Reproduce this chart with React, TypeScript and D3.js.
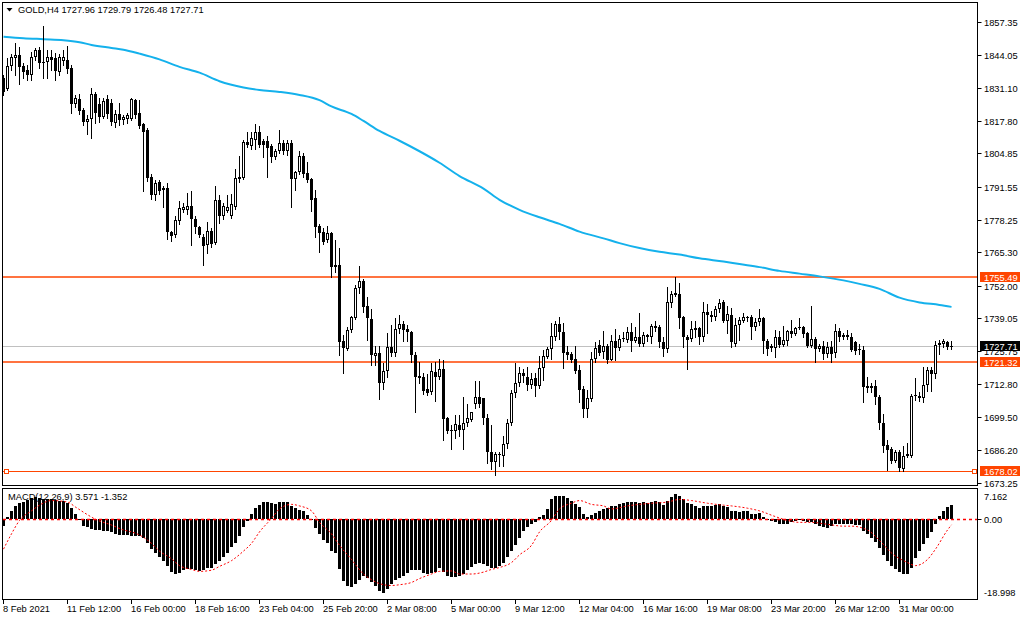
import React from 'react';
import * as d3 from 'd3';

const opens = [1834.8,1830.6,1839.8,1842.9,1844.0,1839.8,1838.0,1836.3,1843.5,1846.3,1841.5,1841.2,1843.2,1843.0,1837.4,1841.7,1842.0,1838.9,1824.5,1826.7,1822.0,1817.2,1818.7,1828.7,1824.5,1819.5,1826.4,1824.9,1817.0,1820.5,
1818.0,1818.5,1818.7,1826.0,1821.0,1816.4,1814.0,1795.5,1788.4,1793.3,1790.2,1790.9,1773.6,1772.1,1777.7,1782.3,1782.3,1784.0,1778.7,1775.4,1771.6,1768.3,1774.0,1769.0,1786.2,1779.7,1782.0,1780.0,1783.6,1794.6,
1795.0,1809.2,1807.7,1810.3,1813.4,1809.6,1809.6,1807.6,1803.4,1805.7,1808.8,1805.7,1809.1,1794.7,1797.3,1803.7,1797.0,1794.7,1787.1,1775.9,1773.6,1770.1,1773.2,1759.4,1760.3,1730.0,1726.7,1734.3,1739.2,1751.0,
1754.0,1743.8,1738.8,1723.9,1725.1,1712.9,1717.8,1727.3,1725.1,1734.6,1736.5,1734.6,1733.4,1724.2,1715.8,1715.5,1710.5,1709.4,1717.5,1715.5,1718.6,1699.1,1694.4,1694.1,1696.4,1694.5,1697.0,1698.5,1704.8,1707.4,
1707.0,1699.1,1685.7,1681.4,1684.9,1684.1,1688.7,1697.1,1708.9,1712.9,1717.0,1715.5,1712.4,1715.0,1711.7,1719.0,1723.6,1726.7,1731.6,1736.5,1733.4,1725.4,1724.7,1722.7,1718.1,1710.5,1702.8,1706.8,1722.7,1728.2,
1725.4,1727.7,1722.4,1730.0,1727.0,1730.8,1730.3,1733.4,1730.0,1731.3,1728.5,1732.3,1731.6,1735.8,1735.4,1729.3,1726.7,1745.0,1749.1,1748.7,1739.5,1731.6,1730.8,1734.9,1734.9,1731.3,1741.5,1740.4,1739.5,1742.6,
1745.3,1738.0,1740.4,1728.8,1736.1,1738.0,1739.5,1739.5,1735.4,1737.4,1738.9,1730.0,1727.0,1727.0,1731.6,1728.2,1730.0,1733.9,1732.8,1734.9,1735.4,1733.1,1727.7,1730.8,1726.7,1727.7,1724.7,1727.3,1725.1,1733.9,
1731.3,1732.3,1731.3,1729.3,1726.2,1726.2,1711.7,1712.0,1711.7,1707.4,1697.1,1688.4,1686.9,1681.9,1685.7,1678.8,1683.9,1684.1,1707.9,1707.9,1707.1,1712.4,1718.1,1716.6,1728.2,1728.8,1729.5,1727.96];
const highs = [1836.0,1843.0,1844.5,1849.0,1847.5,1841.0,1840.0,1845.5,1847.0,1847.5,1855.7,1846.3,1846.0,1845.0,1844.5,1846.3,1847.8,1840.0,1828.0,1828.7,1823.0,1820.0,1831.0,1829.4,1827.0,1827.1,1828.0,1826.7,1822.0,1825.0,
1820.0,1821.0,1827.0,1826.4,1826.0,1817.0,1815.0,1796.5,1794.2,1794.2,1792.0,1793.0,1774.0,1779.7,1785.8,1785.0,1788.9,1789.7,1779.7,1775.9,1772.5,1777.4,1775.0,1791.7,1788.2,1785.0,1788.2,1788.5,1798.8,1803.7,
1810.3,1813.4,1813.4,1816.4,1815.7,1810.5,1811.9,1808.5,1806.5,1814.1,1810.3,1810.3,1810.3,1798.0,1805.7,1805.0,1801.6,1795.0,1790.4,1776.7,1775.1,1775.9,1773.6,1770.3,1767.0,1732.3,1735.4,1740.0,1752.2,1759.9,
1754.5,1747.6,1742.6,1727.7,1727.7,1720.9,1733.1,1736.1,1739.2,1740.4,1737.7,1736.1,1733.9,1725.4,1721.6,1717.0,1716.6,1720.9,1721.6,1722.7,1722.1,1699.5,1696.4,1700.2,1700.2,1707.4,1704.8,1701.5,1714.0,1714.0,
1707.0,1700.9,1696.4,1685.7,1685.7,1691.8,1698.7,1710.1,1720.9,1719.3,1718.6,1719.3,1717.0,1717.0,1723.9,1726.2,1727.3,1736.9,1737.7,1739.5,1736.9,1727.7,1725.4,1727.7,1720.1,1711.7,1710.1,1725.4,1729.3,1730.3,
1733.9,1728.5,1732.3,1734.6,1732.3,1733.4,1735.4,1736.9,1735.4,1741.0,1733.4,1732.8,1736.5,1737.7,1736.1,1731.6,1751.4,1749.9,1755.3,1753.0,1739.9,1732.3,1737.7,1737.7,1735.4,1745.3,1744.6,1741.9,1743.8,1746.5,
1746.1,1743.8,1743.0,1739.2,1739.5,1741.0,1740.0,1740.4,1738.9,1742.6,1739.5,1730.8,1728.5,1734.3,1733.9,1735.8,1734.3,1738.4,1735.4,1739.2,1735.8,1733.4,1743.8,1731.6,1728.8,1729.7,1729.3,1729.7,1736.5,1735.0,
1733.1,1734.3,1733.1,1730.0,1728.5,1727.7,1715.5,1713.2,1714.4,1708.3,1700.9,1690.3,1687.5,1686.4,1686.4,1688.0,1689.0,1708.6,1715.0,1709.4,1719.6,1719.6,1719.6,1730.0,1730.3,1730.5,1729.8,1729.79];
const lows = [1828.0,1830.0,1838.0,1836.0,1832.5,1834.8,1834.0,1834.0,1842.0,1839.0,1834.8,1834.8,1838.0,1834.0,1836.0,1840.0,1837.0,1821.0,1823.5,1820.5,1816.0,1812.6,1811.0,1817.0,1817.5,1819.0,1819.0,1816.0,1815.5,1816.0,
1816.5,1817.0,1818.0,1819.0,1815.0,1789.7,1794.0,1786.6,1786.3,1788.5,1783.6,1770.6,1769.8,1771.6,1776.7,1781.5,1780.5,1768.3,1772.9,1771.3,1760.3,1764.9,1767.5,1768.7,1777.1,1778.5,1781.3,1779.0,1782.5,1793.5,
1794.5,1807.5,1806.5,1806.5,1807.5,1803.4,1795.5,1801.6,1802.5,1805.0,1804.5,1804.2,1783.6,1790.4,1796.5,1795.5,1793.5,1781.7,1771.3,1765.5,1768.5,1769.5,1755.3,1757.6,1724.2,1717.0,1726.2,1733.5,1738.5,1749.1,
1741.5,1730.3,1720.1,1720.1,1706.8,1710.5,1715.5,1723.9,1723.9,1733.1,1729.7,1730.0,1721.6,1701.7,1713.2,1708.6,1708.3,1708.6,1705.9,1714.5,1690.3,1693.3,1686.9,1691.0,1691.8,1686.9,1696.0,1697.9,1703.0,1703.7,
1696.7,1681.1,1678.8,1676.5,1679.9,1679.9,1687.2,1696.4,1707.4,1711.7,1713.5,1710.1,1710.9,1707.9,1710.9,1714.4,1723.1,1722.7,1730.3,1730.8,1719.0,1722.7,1721.6,1717.0,1705.6,1699.4,1699.4,1705.9,1721.6,1724.2,
1723.0,1721.2,1722.1,1722.1,1726.2,1729.7,1729.3,1725.8,1729.3,1727.7,1727.7,1730.0,1728.9,1733.9,1727.3,1723.9,1725.4,1743.5,1748.0,1734.9,1727.3,1718.6,1730.0,1731.3,1728.5,1730.0,1733.1,1738.0,1738.4,1741.5,
1737.4,1733.1,1727.3,1727.7,1730.3,1737.4,1738.0,1730.8,1734.3,1736.1,1725.1,1724.2,1725.8,1723.6,1727.3,1727.7,1728.2,1731.6,1732.3,1734.6,1731.6,1727.3,1727.3,1721.6,1725.8,1722.7,1723.6,1721.6,1723.6,1730.0,
1730.8,1730.8,1725.8,1724.7,1724.7,1705.3,1709.5,1709.4,1704.8,1694.9,1685.7,1678.3,1681.1,1681.4,1678.0,1678.0,1683.4,1683.4,1706.3,1705.9,1705.6,1709.9,1709.9,1715.0,1724.5,1727.5,1726.5,1726.48];
const closes = [1829.4,1839.8,1843.2,1844.0,1839.4,1837.4,1836.3,1843.5,1846.3,1840.9,1841.0,1843.5,1842.0,1837.9,1843.2,1843.5,1838.6,1824.5,1827.1,1821.8,1817.5,1818.7,1828.7,1821.0,1819.5,1825.6,1820.7,1817.2,1820.5,1818.0,
1819.2,1820.0,1826.4,1820.3,1815.7,1813.4,1795.0,1788.2,1793.0,1790.0,1791.2,1773.6,1771.9,1778.2,1783.1,1783.6,1784.0,1778.7,1775.4,1772.1,1767.9,1773.9,1768.5,1786.3,1779.7,1784.0,1783.4,1784.5,1794.9,1795.5,
1809.2,1808.0,1810.8,1813.4,1808.3,1808.3,1807.0,1803.4,1805.7,1808.8,1805.7,1808.8,1794.7,1797.3,1803.7,1796.6,1794.3,1786.3,1775.6,1773.2,1769.3,1772.9,1759.4,1760.3,1729.6,1727.0,1734.3,1739.5,1751.0,1753.7,
1743.3,1738.9,1724.2,1725.1,1713.2,1717.8,1727.3,1725.1,1734.6,1736.5,1734.3,1733.4,1724.2,1715.5,1715.2,1709.9,1709.1,1717.8,1715.5,1718.6,1698.7,1694.1,1693.8,1696.7,1694.5,1697.1,1699.1,1701.5,1707.4,1704.8,
1699.1,1685.7,1681.4,1684.9,1684.5,1688.7,1697.1,1708.9,1712.9,1717.0,1715.8,1712.4,1714.7,1711.7,1719.0,1723.9,1726.7,1731.9,1736.5,1733.4,1725.1,1724.2,1722.4,1717.8,1710.2,1702.8,1707.1,1722.7,1727.0,1725.1,
1727.7,1722.4,1729.7,1727.0,1730.8,1731.1,1733.4,1730.0,1731.3,1728.5,1732.3,1731.3,1735.8,1734.9,1729.3,1726.7,1745.3,1748.7,1748.1,1739.2,1731.3,1730.3,1734.6,1734.3,1731.3,1741.5,1740.4,1739.5,1742.6,1745.0,
1738.0,1740.7,1729.3,1736.1,1738.4,1739.5,1738.9,1735.4,1737.4,1738.9,1730.0,1726.7,1727.7,1731.6,1728.2,1730.3,1733.9,1732.8,1734.9,1735.4,1732.8,1727.7,1730.8,1726.7,1727.7,1724.7,1727.3,1724.7,1733.9,1731.6,
1732.3,1731.3,1726.2,1725.8,1726.7,1711.4,1711.1,1710.9,1707.4,1697.1,1688.0,1686.4,1681.9,1685.7,1679.3,1683.9,1684.9,1707.9,1708.3,1707.1,1712.4,1718.1,1716.6,1728.2,1729.0,1730.0,1727.5,1727.71];

const macdHist = [-1.68,0.65,2.06,3.27,3.93,4.21,4.68,5.15,5.33,5.15,4.87,4.87,4.87,4.68,4.58,4.40,3.93,2.71,1.40,0.09,-1.68,-1.96,-2.34,-2.62,-2.62,-2.90,-2.90,-3.09,-3.56,-3.74,
-3.84,-3.84,-4.02,-4.02,-4.02,-4.49,-5.89,-7.30,-8.23,-9.17,-10.11,-11.51,-12.91,-13.38,-13.10,-12.45,-12.26,-12.16,-12.45,-12.63,-12.45,-11.98,-11.98,-11.04,-10.11,-9.17,-8.23,-6.83,-5.71,-4.02,
-1.96,-0.40,1.40,2.71,3.46,4.12,4.21,3.93,3.65,4.12,4.21,4.21,3.27,2.71,2.25,2.06,0.94,-0.28,-2.15,-3.56,-5.15,-5.89,-7.77,-8.23,-12.26,-15.07,-16.19,-16.66,-15.72,-14.78,
-13.85,-14.32,-15.44,-16.37,-17.59,-18.06,-17.12,-15.72,-14.78,-14.32,-13.85,-13.19,-12.45,-12.45,-12.45,-13.10,-13.38,-13.19,-12.91,-11.98,-12.91,-13.85,-14.13,-14.13,-13.85,-13.38,-12.45,-11.70,-11.04,-10.57,
-11.04,-11.51,-11.98,-11.98,-11.51,-10.57,-9.17,-7.77,-6.36,-4.49,-2.90,-1.96,-1.22,-0.75,0.47,1.12,2.53,4.87,5.61,5.80,5.61,5.15,4.40,3.65,2.99,1.40,0.65,1.12,1.59,2.06,
2.53,2.71,3.27,3.27,3.65,3.93,4.21,4.21,4.21,3.93,4.21,3.93,4.21,4.58,4.21,3.46,4.58,5.52,6.27,5.80,4.87,3.93,3.65,3.27,2.71,3.27,3.27,3.27,3.46,3.65,
3.27,2.99,2.06,2.06,1.78,2.06,2.06,1.40,1.40,1.59,0.65,-0.09,-0.47,-0.75,-1.22,-1.03,-1.22,-0.75,-0.47,-0.28,-0.47,-0.75,-0.75,-1.22,-1.68,-1.96,-2.15,-1.68,-1.22,-1.03,
-1.03,-1.03,-1.03,-1.40,-1.40,-2.90,-3.56,-4.49,-5.43,-7.02,-8.70,-10.11,-11.51,-12.26,-12.91,-13.38,-13.38,-11.98,-9.45,-7.77,-6.08,-4.49,-3.09,-1.03,0.84,2.06,2.99,3.571];

const signalBar = [0,2,4,7,9,12,16,18,21,23,27,30,32,34,37,39,42,44,47,49,52,54,57,60,62,64,67,69,72,74,77,79,82,84,87,90,92,94,97,99,102,104,107,109,112,114,117,120,122,124,127,129,132,134,137,139,142,144,147,150,152,156,159,162,166,169,172,176,180,182,186,189,193,196,199,202,206,210,212,216,219,222,226,228,231,233,236,237];
const signalVal = [-7.30,-3.56,-0.28,2.06,3.46,4.58,4.21,2.99,1.12,0,-1.40,-2.62,-3.09,-3.84,-5.89,-7.77,-9.64,-11.32,-12.26,-12.73,-12.45,-11.51,-10.11,-7.77,-5.89,-3.09,0.19,2.53,3.65,3.27,2.06,-0.75,-3.56,-6.36,-9.82,-13.38,-14.78,-15.72,-16.19,-16.00,-15.44,-14.50,-13.38,-12.73,-12.63,-13.38,-13.38,-12.91,-12.26,-11.79,-10.57,-8.70,-6.36,-3.09,-0.28,2.53,3.93,4.58,3.65,3.27,2.53,3.27,3.65,3.93,4.21,4.87,4.58,3.93,3.46,3.27,2.71,2.06,0.65,-0.28,-0.75,-0.75,-1.22,-1.68,-1.68,-2.62,-5.15,-8.23,-10.57,-11.32,-9.82,-7.30,-2.62,-1.352];

const maBar = [0,5,10,15,19,22,27,30,34,39,44,49,54,60,64,69,74,79,82,87,90,94,99,104,109,114,120,124,129,134,139,144,150,154,159,164,169,174,180,184,189,194,199,204,210,214,219,224,229,234,237];
const maVal = [1851.5,1850.9,1850.5,1850.1,1849.3,1848.2,1847.0,1846.3,1844.7,1842.4,1839.4,1837.1,1833.7,1831.2,1830.2,1829.4,1828.2,1826.1,1823.6,1820.6,1817.8,1813.8,1809.9,1805.7,1801.1,1795.8,1790.8,1786.3,1782.3,1779.3,1776.7,1773.6,1770.9,1769.0,1767.0,1765.5,1764.4,1762.9,1761.6,1760.6,1759.4,1757.9,1756.8,1755.7,1754.1,1752.7,1750.7,1747.2,1745.3,1744.3,1743.5];

const priceTicks = [1857.35,1844.05,1831.10,1817.80,1804.85,1791.55,1778.25,1765.30,1752.00,1739.05,1725.75,1712.80,1699.50,1686.20,1673.25];
const timeLabels = ['8 Feb 2021','11 Feb 12:00','16 Feb 00:00','18 Feb 16:00','23 Feb 04:00','25 Feb 20:00','2 Mar 08:00','5 Mar 00:00','9 Mar 12:00','12 Mar 04:00','16 Mar 16:00','19 Mar 08:00','23 Mar 20:00','26 Mar 12:00','31 Mar 00:00'];
const timeLabelBars = [0,16,32,48,64,80,96,112,128,144,160,176,192,208,224];
const levelPrices = [1755.49, 1721.32, 1678.02];
const bidPrice = 1727.71;
const macdMax = 7.162;
const macdMin = -18.998;

const FONT = "'Liberation Sans', Arial, sans-serif";
const FS = 9.3;
const ORANGE = '#FF4500';

export default function App() {
  const n = closes.length;
  const x = d3.scaleLinear().domain([0, n - 1]).range([3.5, 3.5 + 4 * (n - 1)]);
  const y = d3.scaleLinear().domain([1673.25, 1857.35]).range([482.7, 22]);
  const ym = d3.scaleLinear().domain([macdMin, macdMax]).range([597, 490]);
  const R = Math.round;

  const candles = closes.map((c, i) => {
    const o = opens[i];
    const cx = x(i);
    const top = R(y(Math.max(o, c)));
    const bot = R(y(Math.min(o, c)));
    const bull = c >= o;
    const wick = <line key={'w' + i} x1={cx} x2={cx} y1={R(y(highs[i]))} y2={R(y(lows[i])) + 1} stroke="#000" strokeWidth={1} />;
    let body;
    if (bot - top < 2) {
      body = <rect key={'b' + i} x={cx - 1.5} y={top} width={3} height={Math.max(1, bot - top)} fill="#000" />;
    } else if (bull) {
      body = <rect key={'b' + i} x={cx - 1} y={top + 0.5} width={2} height={bot - top - 1} fill="#fff" stroke="#000" strokeWidth={1} />;
    } else {
      body = <rect key={'b' + i} x={cx - 1.5} y={top} width={3} height={bot - top} fill="#000" />;
    }
    return <g key={i}>{wick}{body}</g>;
  });

  const maLine = d3.line<number>().x((d, k) => x(maBar[k])).y(d => y(d)).curve(d3.curveMonotoneX)(maVal) || '';
  const sigLine = d3.line<number>().x((d, k) => x(signalBar[k])).y(d => ym(d)).curve(d3.curveMonotoneX)(signalVal) || '';

  const bars = macdHist.map((v, i) => {
    const y0 = R(ym(0));
    const y1 = R(ym(v));
    const top = Math.min(y0, y1);
    const h = Math.max(1, Math.abs(y1 - y0));
    return <rect key={'m' + i} x={x(i) - 1.5} y={top} width={3} height={h} fill="#000" />;
  });

  const axisX = 977.5;
  const boxes = [
    { p: levelPrices[0], bg: ORANGE },
    { p: bidPrice, bg: '#000' },
    { p: levelPrices[1], bg: ORANGE },
    { p: levelPrices[2], bg: ORANGE },
  ];
  const hiddenTick = 1725.75;

  return (
    <svg width={1024} height={620} style={{ display: 'block', position: 'absolute', left: 0, top: 0 }} fontFamily={FONT}>
      <rect x={0} y={0} width={1024} height={620} fill="#fff" />
      <defs>
        <clipPath id="pc"><rect x={3} y={3} width={974} height={482} /></clipPath>
        <clipPath id="mc"><rect x={3} y={489} width={974} height={110} /></clipPath>
        <clipPath id="hid"><rect x={978} y={R(y(bidPrice)) + 5} width={46} height={10} /></clipPath>
      </defs>

      {/* price pane */}
      <g clipPath="url(#pc)">
        <line x1={3} x2={977} y1={R(y(bidPrice)) + 0.5} y2={R(y(bidPrice)) + 0.5} stroke="#C0C0C0" strokeWidth={1} />
        <line x1={3} x2={977} y1={R(y(levelPrices[0]))} y2={R(y(levelPrices[0]))} stroke={ORANGE} strokeWidth={1.5} />
        <line x1={3} x2={977} y1={R(y(levelPrices[1]))} y2={R(y(levelPrices[1]))} stroke={ORANGE} strokeWidth={1.5} />
        <line x1={3} x2={977} y1={R(y(levelPrices[2])) + 0.5} y2={R(y(levelPrices[2])) + 0.5} stroke={ORANGE} strokeWidth={1} />
        <rect x={4.5} y={R(y(levelPrices[2])) - 2 + 0.5} width={4} height={4} fill="#fff" stroke={ORANGE} strokeWidth={1} />
        <rect x={972.5} y={R(y(levelPrices[2])) - 2 + 0.5} width={4} height={4} fill="#fff" stroke={ORANGE} strokeWidth={1} />
        <path d={maLine} fill="none" stroke="#14B1EC" strokeWidth={2} />
        {candles}
      </g>
      <g>
        <path d="M6.5,8 L12.5,8 L9.5,11.5 Z" fill="#000" />
        <text x={18} y={12.5} fontSize={FS} fill="#000">GOLD,H4  1727.96 1729.79 1726.48 1727.71</text>
      </g>

      {/* macd pane */}
      <g clipPath="url(#mc)">
        {bars}
        <line x1={3} x2={977} y1={R(ym(0)) + 0.5} y2={R(ym(0)) + 0.5} stroke="#FF0000" strokeWidth={1.5} strokeDasharray="3,3" />
        <path d={sigLine} fill="none" stroke="#FF0000" strokeWidth={1} strokeDasharray="2,2" />
      </g>
      <text x={8} y={500} fontSize={FS} fill="#000">MACD(12,26,9) 3.571 -1.352</text>

      {/* frames */}
      <rect x={2.5} y={2.5} width={975} height={483} fill="none" stroke="#000" strokeWidth={1} />
      <rect x={2.5} y={488.5} width={975} height={111} fill="none" stroke="#000" strokeWidth={1} />

      {/* price axis */}
      {priceTicks.map((p, k) => (
        <g key={'t' + k}>
          <line x1={axisX} x2={axisX + 4} y1={R(y(p)) + 0.5} y2={R(y(p)) + 0.5} stroke="#000" />
          {p === hiddenTick ? (
            <text x={984} y={R(y(p)) + 3.5} fontSize={FS} fill="#000" clipPath="url(#hid)">{p.toFixed(2)}</text>
          ) : (
            <text x={984} y={R(y(p)) + 3.5} fontSize={FS} fill="#000">{p.toFixed(2)}</text>
          )}
        </g>
      ))}
      {boxes.map((b, k) => (
        <g key={'bx' + k}>
          <rect x={980} y={R(y(b.p)) - 5} width={40} height={10} fill={b.bg} />
          <text x={984} y={R(y(b.p)) + 3.5} fontSize={FS} fill="#fff">{b.p.toFixed(2)}</text>
        </g>
      ))}

      {/* macd axis */}
      <text x={984} y={499.5} fontSize={FS} fill="#000">{macdMax.toFixed(3)}</text>
      <line x1={axisX} x2={axisX + 4} y1={R(ym(0)) + 0.5} y2={R(ym(0)) + 0.5} stroke="#000" />
      <text x={984} y={R(ym(0)) + 3.5} fontSize={FS} fill="#000">0.00</text>
      <text x={984} y={596} fontSize={FS} fill="#000">{macdMin.toFixed(3)}</text>

      {/* time axis */}
      {timeLabels.map((t, k) => (
        <g key={'tl' + k}>
          <line x1={x(timeLabelBars[k])} x2={x(timeLabelBars[k])} y1={600} y2={604} stroke="#000" />
          <text x={x(timeLabelBars[k]) - 0.5} y={612} fontSize={FS} fill="#000">{t}</text>
        </g>
      ))}
    </svg>
  );
}
